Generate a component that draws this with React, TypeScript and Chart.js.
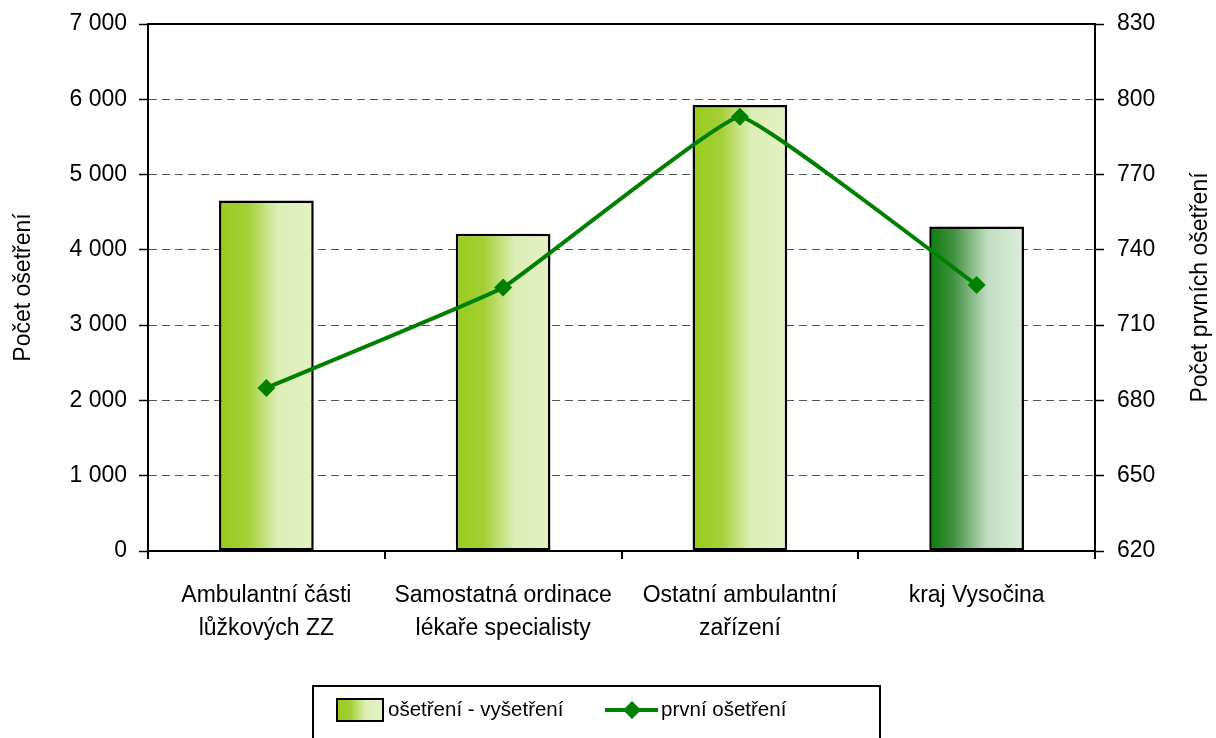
import React, { useEffect, useRef } from "react";
import { Chart, registerables } from "chart.js";

Chart.register(...registerables);

const categories: (string | string[])[] = [
  ["Ambulantní části", "lůžkových ZZ"],
  ["Samostatná ordinace", "lékaře specialisty"],
  ["Ostatní ambulantní", "zařízení"],
  "kraj Vysočina",
];
const osetreniVysetreni = [4655, 4215, 5925, 4310];
const prvniOsetreni = [685, 725, 793, 726];
const barLabel = "ošetření - vyšetření";
const lineLabel = "první ošetření";
const leftTitle = "Počet ošetření";
const rightTitle = "Počet prvních ošetření";

const FONT = "'Liberation Sans', Arial, sans-serif";
const FS = 23;
const LEG_FS = 20.5;
const BAR_PCT = 0.4;
const LINE_COLOR = "#008000";

const fmt = (v: number) => String(v).replace(/\B(?=(\d{3})+(?!\d))/g, " ");

function makeGrad(ctx: CanvasRenderingContext2D, x0: number, x1: number, highlight: boolean) {
  const g = ctx.createLinearGradient(x0, 0, x1, 0);
  if (highlight) {
    g.addColorStop(0, "#0B7D0B");
    g.addColorStop(0.25, "#3F903F");
    g.addColorStop(0.62, "#C2DEC2");
    g.addColorStop(1, "#DCEEDC");
  } else {
    g.addColorStop(0, "#99CC1C");
    g.addColorStop(0.3, "#A4D036");
    g.addColorStop(0.62, "#DDEEB6");
    g.addColorStop(1, "#E3F1C3");
  }
  return g;
}

const noPad = (s: any) => {
  s.paddingTop = 0;
  s.paddingBottom = 0;
};

const framePlugin = {
  id: "frameAndLegend",
  afterDraw(chart: any) {
    const ctx: CanvasRenderingContext2D = chart.ctx;
    const a = chart.chartArea;
    ctx.save();
    // top border of the plot
    ctx.strokeStyle = "#000";
    ctx.lineWidth = 2;
    ctx.beginPath();
    ctx.moveTo(a.left, a.top);
    ctx.lineTo(a.right, a.top);
    ctx.stroke();

    // right axis title (reads bottom-to-top)
    ctx.save();
    ctx.translate(1201, (a.top + a.bottom) / 2);
    ctx.rotate(-Math.PI / 2);
    ctx.font = `${FS}px ${FONT}`;
    ctx.fillStyle = "#000";
    ctx.textAlign = "center";
    ctx.textBaseline = "middle";
    ctx.fillText(rightTitle, 0, 0);
    ctx.restore();

    // legend
    ctx.font = `${LEG_FS}px ${FONT}`;
    const boxL = 313, boxT = 686, boxW = 567;
    ctx.lineWidth = 2;
    ctx.strokeStyle = "#000";
    ctx.beginPath();
    ctx.moveTo(boxL, chart.height + 5);
    ctx.lineTo(boxL, boxT);
    ctx.lineTo(boxL + boxW, boxT);
    ctx.lineTo(boxL + boxW, chart.height + 5);
    ctx.stroke();

    const cy = 710;
    // bar swatch
    const sx0 = 337, sx1 = 383;
    ctx.fillStyle = makeGrad(ctx, sx0, sx1, false);
    ctx.fillRect(sx0, cy - 11, sx1 - sx0, 22);
    ctx.strokeRect(sx0, cy - 11, sx1 - sx0, 22);
    ctx.fillStyle = "#000";
    ctx.textBaseline = "middle";
    ctx.textAlign = "left";
    ctx.fillText(barLabel, 388, cy);

    // line swatch
    ctx.strokeStyle = LINE_COLOR;
    ctx.lineWidth = 4;
    ctx.beginPath();
    ctx.moveTo(605, cy);
    ctx.lineTo(658, cy);
    ctx.stroke();
    ctx.fillStyle = LINE_COLOR;
    ctx.beginPath();
    const r = 9;
    ctx.moveTo(632, cy - r);
    ctx.lineTo(632 + r, cy);
    ctx.lineTo(632, cy + r);
    ctx.lineTo(632 - r, cy);
    ctx.closePath();
    ctx.fill();
    ctx.fillStyle = "#000";
    ctx.fillText(lineLabel, 661, cy);
    ctx.restore();
  },
};

export default function App() {
  const ref = useRef<HTMLCanvasElement | null>(null);
  useEffect(() => {
    document.body.style.margin = "0";
    const canvas = ref.current!;
    const chart = new Chart(canvas, {
      type: "bar",
      data: {
        labels: categories,
        datasets: [
          {
            type: "line",
            label: lineLabel,
            data: prvniOsetreni,
            yAxisID: "y1",
            borderColor: LINE_COLOR,
            backgroundColor: LINE_COLOR,
            borderWidth: 4,
            pointStyle: "rectRot",
            pointRadius: 9,
            pointBorderWidth: 0,
            pointBackgroundColor: LINE_COLOR,
            tension: 0.08,
            order: 0,
          } as any,
          {
            type: "bar",
            label: barLabel,
            data: osetreniVysetreni,
            yAxisID: "y",
            barPercentage: BAR_PCT,
            categoryPercentage: 1,
            borderColor: "#000",
            borderWidth: 2.5,
            borderSkipped: false,
            order: 1,
            backgroundColor: (c: any) => {
              const chart = c.chart;
              const xs = chart.scales?.x;
              if (!xs || !chart.chartArea) return "#B5DA6A";
              const cx = xs.getPixelForValue(c.dataIndex);
              const hw = ((xs.width / categories.length) * BAR_PCT) / 2;
              return makeGrad(chart.ctx, cx - hw, cx + hw, c.dataIndex === categories.length - 1);
            },
          } as any,
        ],
      },
      options: {
        responsive: false,
        animation: false,
        layout: { padding: { top: 24, left: 0, right: 0, bottom: 0 } },
        plugins: {
          legend: { display: false },
          tooltip: { enabled: false },
        },
        scales: {
          x: {
            offset: true,
            afterFit: (s: any) => {
              s.height = 187;
              s.paddingLeft = 0;
              s.paddingRight = 0;
            },
            grid: {
              offset: true,
              drawOnChartArea: false,
              drawTicks: true,
              tickLength: 8,
              color: "#000",
              tickColor: "#000",
              lineWidth: 2,
            },
            border: { display: true, color: "#000", width: 2 },
            ticks: {
              color: "#000",
              padding: 20,
              maxRotation: 0,
              autoSkip: false,
              font: { family: FONT, size: FS, lineHeight: 1.45 },
            },
          },
          y: {
            position: "left",
            min: 0,
            max: 7000,
            afterFit: (s: any) => {
              s.width = 148;
              noPad(s);
            },
            ticks: {
              stepSize: 1000,
              color: "#000",
              padding: 12,
              font: { family: FONT, size: FS },
              callback: (v: any) => fmt(Number(v)),
            },
            grid: {
              color: "#555",
              lineWidth: 1,
              drawTicks: true,
              tickLength: 9,
              tickColor: "#000",
              tickWidth: 1.5,
              tickBorderDash: [],
            } as any,
            border: { display: true, color: "#000", width: 2, dash: [8, 5] } as any,
            title: {
              display: true,
              text: leftTitle,
              color: "#000",
              font: { family: FONT, size: FS },
              padding: { top: 10, bottom: 0 },
            },
          },
          y1: {
            position: "right",
            min: 620,
            max: 830,
            afterFit: (s: any) => {
              s.width = 121;
              noPad(s);
            },
            ticks: {
              stepSize: 30,
              color: "#000",
              padding: 13,
              font: { family: FONT, size: FS },
            },
            grid: {
              drawOnChartArea: false,
              drawTicks: true,
              tickLength: 9,
              tickColor: "#000",
              tickWidth: 1.5,
            },
            border: { display: true, color: "#000", width: 2 },
            title: { display: false },
          },
        },
      } as any,
      plugins: [framePlugin],
    });
    return () => chart.destroy();
  }, []);
  return (
    <div style={{ width: 1216, height: 738 }}>
      <canvas ref={ref} width={1216} height={738} />
    </div>
  );
}
